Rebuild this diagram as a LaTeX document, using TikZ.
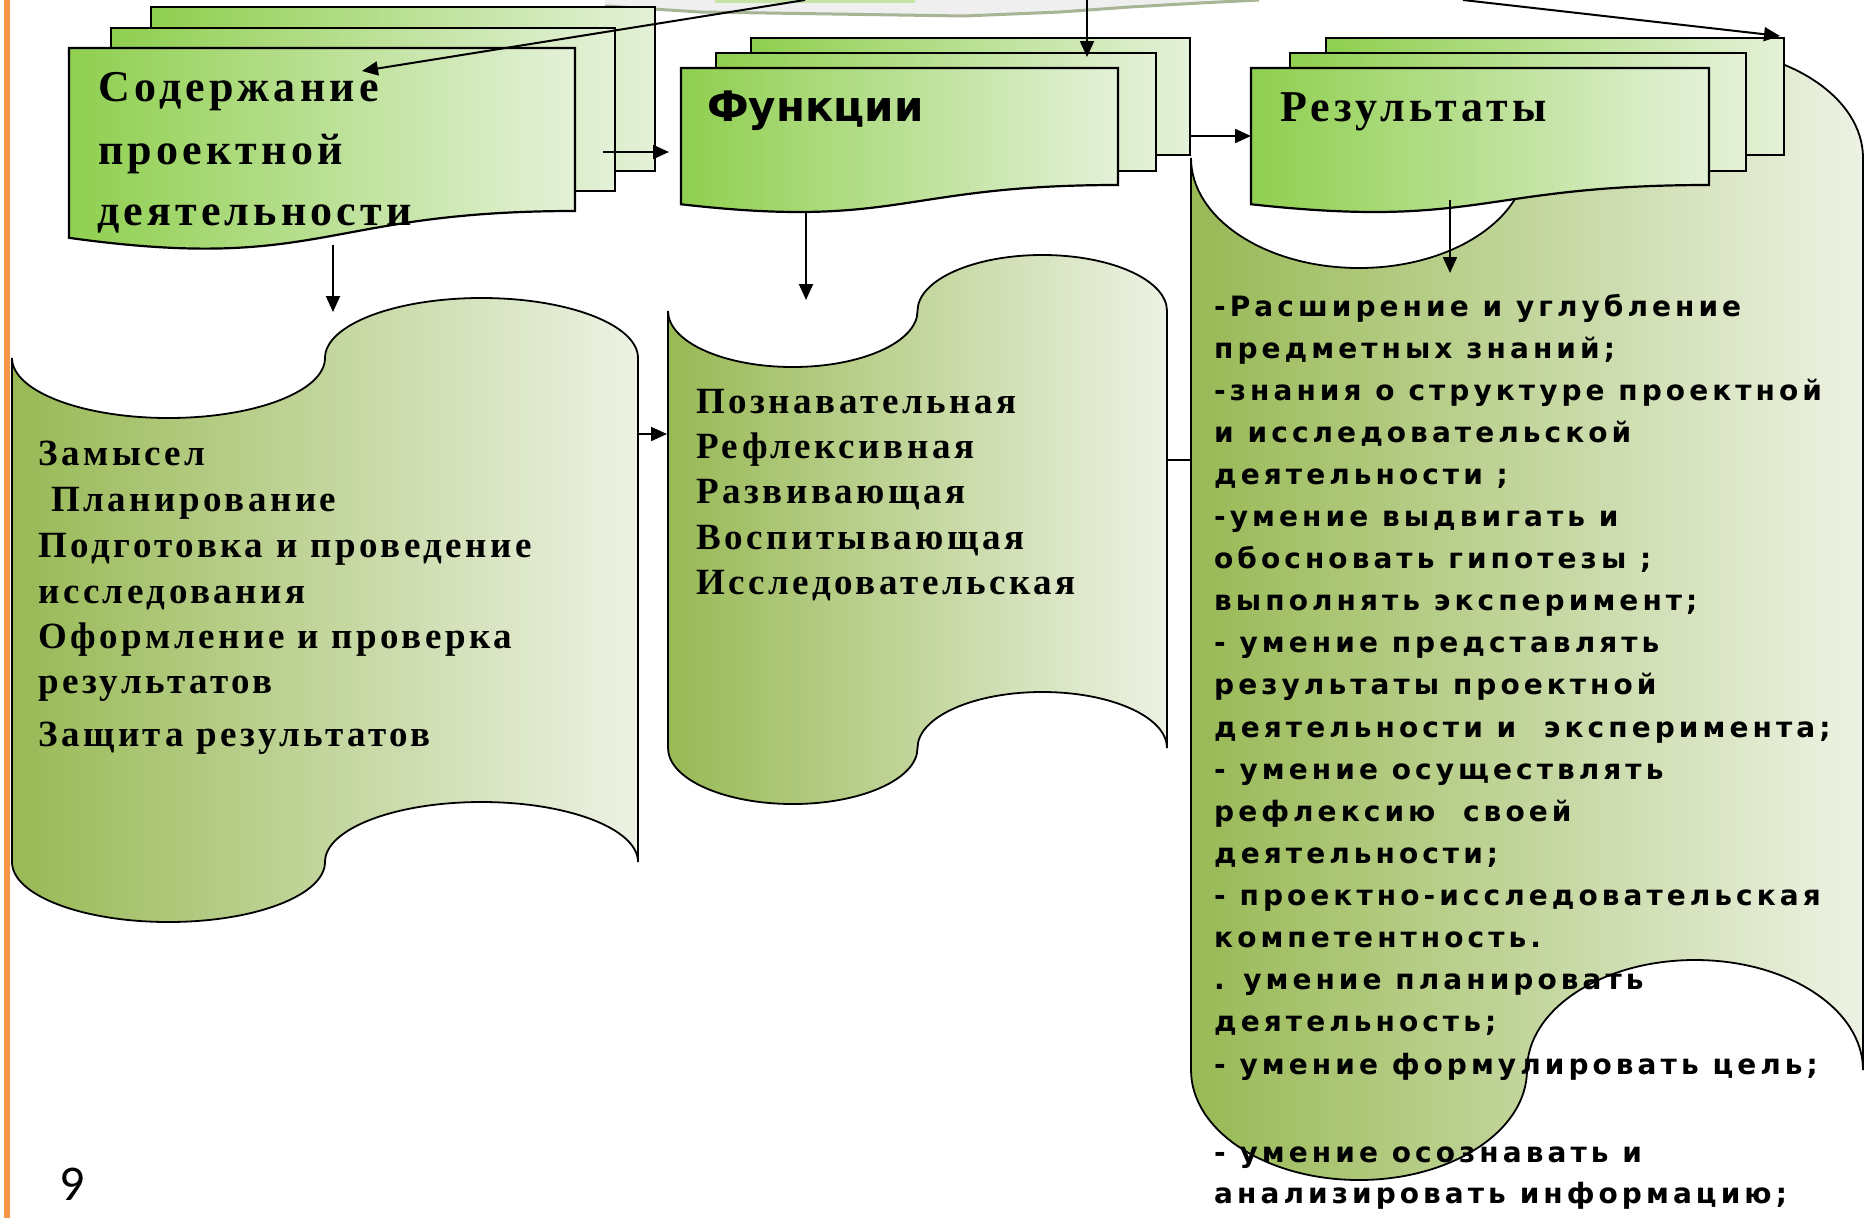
\documentclass[tikz,border=0pt]{standalone}
\usepackage{fontspec}
\usetikzlibrary{arrows.meta}
\newfontfamily\srffont[LetterSpace=9.6]{Liberation Serif}
\newfontfamily\ttlfont[LetterSpace=9.5]{Liberation Serif}
\newfontfamily\snsfont[LetterSpace=14.5]{DejaVu Sans}
\newfontfamily\hdsfont{DejaVu Sans}
\newfontfamily\numfont{Carlito}
\definecolor{boxL}{RGB}{143,207,79}
\definecolor{boxR}{RGB}{228,241,216}
\definecolor{tapeL}{RGB}{152,185,85}
\definecolor{tapeR}{RGB}{237,242,228}
\definecolor{orng}{RGB}{247,150,70}
\definecolor{bandfill}{RGB}{239,239,239}
\definecolor{bandedge}{RGB}{168,180,150}
\definecolor{bandgreen}{RGB}{200,226,170}

% punched-tape path: #1 style, #2 x0, #3 x1, #4 top corner y, #5 bottom corner y, #6 amplitude
\newcommand\mytape[6]{%
  \pgfmathsetmacro\tpq{(#3-#2)/4}%
  \pgfmathsetmacro\tpkx{0.5523*\tpq}%
  \pgfmathsetmacro\tpky{0.5523*#6}%
  \path[#1] (#2,#4)
    .. controls (#2,#4+\tpky) and (#2+\tpq-\tpkx,#4+#6) .. (#2+\tpq,#4+#6)
    .. controls (#2+\tpq+\tpkx,#4+#6) and (#2+2*\tpq,#4+\tpky) .. (#2+2*\tpq,#4)
    .. controls (#2+2*\tpq,#4-\tpky) and (#2+3*\tpq-\tpkx,#4-#6) .. (#2+3*\tpq,#4-#6)
    .. controls (#2+3*\tpq+\tpkx,#4-#6) and (#3,#4-\tpky) .. (#3,#4)
    -- (#3,#5)
    .. controls (#3,#5-\tpky) and (#2+3*\tpq+\tpkx,#5-#6) .. (#2+3*\tpq,#5-#6)
    .. controls (#2+3*\tpq-\tpkx,#5-#6) and (#2+2*\tpq,#5-\tpky) .. (#2+2*\tpq,#5)
    .. controls (#2+2*\tpq,#5+\tpky) and (#2+\tpq+\tpkx,#5+#6) .. (#2+\tpq,#5+#6)
    .. controls (#2+\tpq-\tpkx,#5+#6) and (#2,#5+\tpky) .. (#2,#5)
    -- cycle;%
}
% document-like box: #1 x0, #2 x1, #3 top y, #4 right-bottom y
\newcommand\mydocbox[4]{%
  \pgfmathsetmacro\dbh{(#4-#3)/0.802}%
  \pgfmathsetmacro\dbm{(#1+#2)/2}%
  \path[boxstyle] (#1,#3) -- (#2,#3) -- (#2,#4)
    .. controls (\dbm,#4) and (\dbm,#3+1.107*\dbh) .. (#1,#3+0.934*\dbh) -- cycle;%
}

\begin{document}
\begin{tikzpicture}[x=1pt,y=-1pt,
  boxstyle/.style={draw=black,line width=2.2pt,left color=boxL,right color=boxR},
  tapestyle/.style={draw=black,line width=1.8pt,left color=tapeL,right color=tapeR},
  conn/.style={line width=2pt,-{Triangle[length=16pt,width=14pt]}},
  plainconn/.style={line width=2pt},
  srftxt/.style={anchor=base west,inner sep=0pt,font=\srffont\bfseries\fontsize{37}{44}\selectfont},
  ttltxt/.style={anchor=base west,inner sep=0pt,font=\ttlfont\bfseries\fontsize{44}{52}\selectfont},
  snstxt/.style={anchor=base west,inner sep=0pt,font=\snsfont\bfseries\fontsize{28}{33}\selectfont},
  hdstxt/.style={anchor=base west,inner sep=0pt,font=\hdsfont\bfseries\fontsize{42}{50}\selectfont}
]
\useasboundingbox (0,0) rectangle (1865,1218);
\fill[white] (0,0) rectangle (1865,1218);
% orange margin line
\fill[orng] (4,0) rectangle (10,1218);
% grey band cut off at the top
\fill[bandfill] (605,0) -- (605,6) -- (700,12) -- (964,16) -- (1060,12) -- (1130,7) -- (1200,3) -- (1259,0) -- cycle;
\fill[bandgreen] (715,0) rectangle (915,3);
\draw[bandedge,line width=3pt] (605,6) -- (700,12) -- (964,16) -- (1060,12) -- (1130,7) -- (1200,3) -- (1259,0);

% big tape (results)
\mytape{tapestyle}{1191}{1863}{158}{1070}{110}
% left tape (content)
\mytape{tapestyle}{12}{638}{358}{862}{60}
% middle tape (functions)
\mytape{tapestyle}{668}{1167}{311}{748}{56}

% group 1: content
\draw[boxstyle] (151,7) rectangle (655,171);
\draw[boxstyle] (111,28) rectangle (615,191);
\mydocbox{69}{575}{48}{211}
% group 2: functions
\draw[boxstyle] (751,38) rectangle (1190,155);
\draw[boxstyle] (716,53) rectangle (1156,171);
\mydocbox{681}{1118}{68}{185}
% group 3: results
\draw[boxstyle] (1326,38) rectangle (1784,155);
\draw[boxstyle] (1290,53) rectangle (1746,171);
\mydocbox{1251}{1709}{68}{185}

% named end points
\coordinate (bandA) at (805,0);
\coordinate (contIn) at (362,71);
\coordinate (bandB) at (1087,0);
\coordinate (funcIn) at (1087,57);
\coordinate (bandC) at (1463,0);
\coordinate (resIn) at (1780,36);
\coordinate (contOut) at (603,152);
\coordinate (funcLeft) at (669,152);
\coordinate (funcOut) at (1190,136);
\coordinate (resLeft) at (1251,136);
\coordinate (contBot) at (333,245);
\coordinate (tapeAtop) at (333,312);
\coordinate (funcBot) at (806,212);
\coordinate (tapeBtop) at (806,300);
\coordinate (resBot) at (1450,200);
\coordinate (tapeCtop) at (1450,273);
\coordinate (tapeAright) at (638,434);
\coordinate (tapeBleft) at (667,434);
\coordinate (tapeBright) at (1167,460);
\coordinate (tapeCleft) at (1191,460);

% connectors
\draw[conn] (bandA) -- (contIn);
\draw[conn] (bandB) -- (funcIn);
\draw[conn] (bandC) -- (resIn);
\draw[conn] (contOut) -- (funcLeft);
\draw[conn] (funcOut) -- (resLeft);
\draw[conn] (contBot) -- (tapeAtop);
\draw[conn] (funcBot) -- (tapeBtop);
\draw[conn] (resBot) -- (tapeCtop);
\draw[conn] (tapeAright) -- (tapeBleft);
\draw[plainconn] (tapeBright) -- (tapeCleft);

% headings
\node[ttltxt] (h1a) at (98,101.7) {Содержание};
\node[ttltxt] (h1b) at (98,164) {проектной};
\node[ttltxt] (h1c) at (97,225) {деятельности};
\node[hdstxt] (h2) at (707,121.7) {Функции};
\node[ttltxt] (h3) at (1280,121.7) {Результаты};

% content list
\foreach \yy/\lt [count=\i] in {465/{Замысел},511/{\ Планирование},557/{Подготовка и проведение},603/{исследования},648/{Оформление и проверка},693/{результатов},746/{Защита результатов}}
  \node[srftxt] (c\i) at (38,\yy) {\lt};

% functions list
\foreach \yy/\lt [count=\i] in {413/{Познавательная},458/{Рефлексивная},503.5/{Развивающая},549/{Воспитывающая},594.5/{Исследовательская}}
  \node[srftxt] (f\i) at (696,\yy) {\lt};

% results list
\foreach \yy/\lt [count=\i] in {316/{-Расширение и углубление},358.1/{предметных знаний;},400.2/{-знания о структуре проектной},442.3/{и исследовательской},484.4/{деятельности ;},526.5/{-умение выдвигать и},568.6/{обосновать гипотезы ;},610.7/{выполнять эксперимент;},652.8/{- умение представлять},694.9/{результаты проектной},737/{деятельности и~ эксперимента;},779.1/{- умение осуществлять},821.2/{рефлексию~ своей},863.3/{деятельности;},905.4/{- проектно-исследовательская},947.5/{компетентность.},989.6/{. умение планировать},1031.7/{деятельность;},1074/{- умение формулировать цель;},1162/{- умение осознавать и},1203/{анализировать информацию;}}
  \node[snstxt] (r\i) at (1214,\yy) {\lt};

% page number
\node[anchor=base west,inner sep=0pt,font=\numfont\fontsize{50}{60}\selectfont] (pnum) at (59,1200) {9};
\end{tikzpicture}
\end{document}
